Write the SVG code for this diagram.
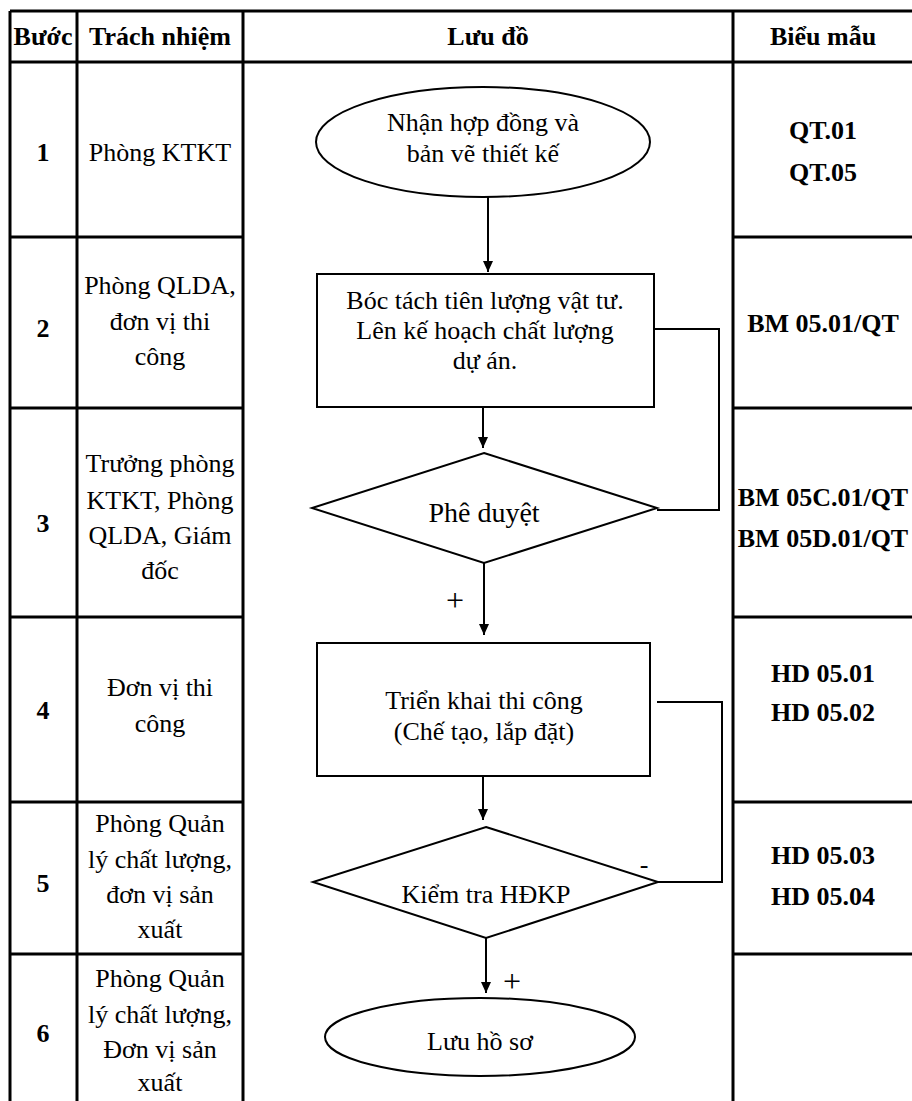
<svg xmlns="http://www.w3.org/2000/svg" width="912" height="1101" viewBox="0 0 912 1101">
<defs>
<marker id="ah" markerWidth="11" markerHeight="10" refX="11" refY="5" orient="auto" markerUnits="userSpaceOnUse">
<path d="M0,0 L11,5 L0,10 Z" fill="#000"/>
</marker>
<style>
.grid{stroke:#000;stroke-width:3;fill:none}
.shape{stroke:#000;stroke-width:2;fill:#fff}
.conn{stroke:#000;stroke-width:2;fill:none}
.t{font-family:"Liberation Serif","Times New Roman",serif;font-size:26px;fill:#000;text-anchor:middle}
.b{font-weight:bold}
.sign{font-size:32px}
</style>
</defs>
<rect width="912" height="1101" fill="#fff"/>
<g id="table">
<line class="grid" x1="10" y1="11" x2="912" y2="11"/>
<line class="grid" x1="10" y1="62" x2="912" y2="62"/>
<line class="grid" x1="10" y1="11" x2="10" y2="1101"/>
<line class="grid" x1="77" y1="11" x2="77" y2="1101"/>
<line class="grid" x1="243" y1="11" x2="243" y2="1101"/>
<line class="grid" x1="733" y1="11" x2="733" y2="1101"/>
<line class="grid" x1="10" y1="237" x2="243" y2="237"/>
<line class="grid" x1="10" y1="408" x2="243" y2="408"/>
<line class="grid" x1="10" y1="617" x2="243" y2="617"/>
<line class="grid" x1="10" y1="802" x2="243" y2="802"/>
<line class="grid" x1="10" y1="954" x2="243" y2="954"/>
<line class="grid" x1="733" y1="237" x2="912" y2="237"/>
<line class="grid" x1="733" y1="408" x2="912" y2="408"/>
<line class="grid" x1="733" y1="617" x2="912" y2="617"/>
<line class="grid" x1="733" y1="802" x2="912" y2="802"/>
<line class="grid" x1="733" y1="954" x2="912" y2="954"/>
<text class="t b" x="43" y="45">Bước</text>
<text class="t b" x="160" y="45">Trách nhiệm</text>
<text class="t b" x="488" y="45">Lưu đồ</text>
<text class="t b" x="823" y="45">Biểu mẫu</text>
</g>
<g id="steps">
<text class="t b" x="43" y="161">1</text>
<text class="t b" x="43" y="337">2</text>
<text class="t b" x="43" y="532">3</text>
<text class="t b" x="43" y="719">4</text>
<text class="t b" x="43" y="892">5</text>
<text class="t b" x="43" y="1042">6</text>
</g>
<g id="responsibility">
<text class="t" x="160" y="161">Phòng KTKT</text>
<text class="t" x="160" y="294">Phòng QLDA,</text>
<text class="t" x="160" y="330">đơn vị thi</text>
<text class="t" x="160" y="365">công</text>
<text class="t" x="160" y="472">Trưởng phòng</text>
<text class="t" x="160" y="509">KTKT, Phòng</text>
<text class="t" x="160" y="544">QLDA, Giám</text>
<text class="t" x="160" y="579">đốc</text>
<text class="t" x="160" y="696">Đơn vị thi</text>
<text class="t" x="160" y="732">công</text>
<text class="t" x="160" y="832">Phòng Quản</text>
<text class="t" x="160" y="868">lý chất lượng,</text>
<text class="t" x="160" y="903">đơn vị sản</text>
<text class="t" x="160" y="938">xuất</text>
<text class="t" x="160" y="987">Phòng Quản</text>
<text class="t" x="160" y="1023">lý chất lượng,</text>
<text class="t" x="160" y="1058">Đơn vị sản</text>
<text class="t" x="160" y="1091">xuất</text>
</g>
<g id="forms">
<text class="t b" x="823" y="139">QT.01</text>
<text class="t b" x="823" y="181">QT.05</text>
<text class="t b" x="823" y="332">BM 05.01/QT</text>
<text class="t b" x="823" y="506">BM 05C.01/QT</text>
<text class="t b" x="823" y="547">BM 05D.01/QT</text>
<text class="t b" x="823" y="682">HD 05.01</text>
<text class="t b" x="823" y="721">HD 05.02</text>
<text class="t b" x="823" y="864">HD 05.03</text>
<text class="t b" x="823" y="905">HD 05.04</text>
</g>
<g id="connectors">
<line class="conn" x1="488" y1="197" x2="488" y2="272" marker-end="url(#ah)"/>
<line class="conn" x1="483" y1="407" x2="483" y2="448" marker-end="url(#ah)"/>
<line class="conn" x1="484" y1="563" x2="484" y2="635" marker-end="url(#ah)"/>
<line class="conn" x1="483" y1="776" x2="483" y2="820" marker-end="url(#ah)"/>
<line class="conn" x1="486" y1="938" x2="486" y2="993" marker-end="url(#ah)"/>
<polyline class="conn" points="654,329 719,329 719,510 657,510"/>
<polyline class="conn" points="657,702 722,702 722,882 658,882"/>
<text class="t sign" x="455" y="611">+</text>
<text class="t" x="644" y="873">-</text>
<text class="t sign" x="512" y="992">+</text>
</g>
<g id="n1">
<ellipse class="shape" cx="483" cy="142" rx="167" ry="55"/>
<text class="t" x="483" y="131">Nhận hợp đồng và</text>
<text class="t" x="483" y="162">bản vẽ thiết kế</text>
</g>
<g id="n2">
<rect class="shape" x="317" y="274" width="337" height="133"/>
<text class="t" x="485" y="309">Bóc tách tiên lượng vật tư.</text>
<text class="t" x="485" y="339">Lên kế hoạch chất lượng</text>
<text class="t" x="485" y="369">dự án.</text>
</g>
<g id="n3">
<polygon class="shape" points="484,453 657,508 484,563 312,508"/>
<text class="t" x="484" y="522" style="font-size:28px">Phê duyệt</text>
</g>
<g id="n4">
<rect class="shape" x="317" y="643" width="333" height="133"/>
<text class="t" x="484" y="709">Triển khai thi công</text>
<text class="t" x="484" y="740">(Chế tạo, lắp đặt)</text>
</g>
<g id="n5">
<polygon class="shape" points="486,827 658,882 486,938 313,882"/>
<text class="t" x="486" y="903">Kiểm tra HĐKP</text>
</g>
<g id="n6">
<ellipse class="shape" cx="480" cy="1037" rx="155" ry="39"/>
<text class="t" x="480" y="1050">Lưu hồ sơ</text>
</g>
</svg>
